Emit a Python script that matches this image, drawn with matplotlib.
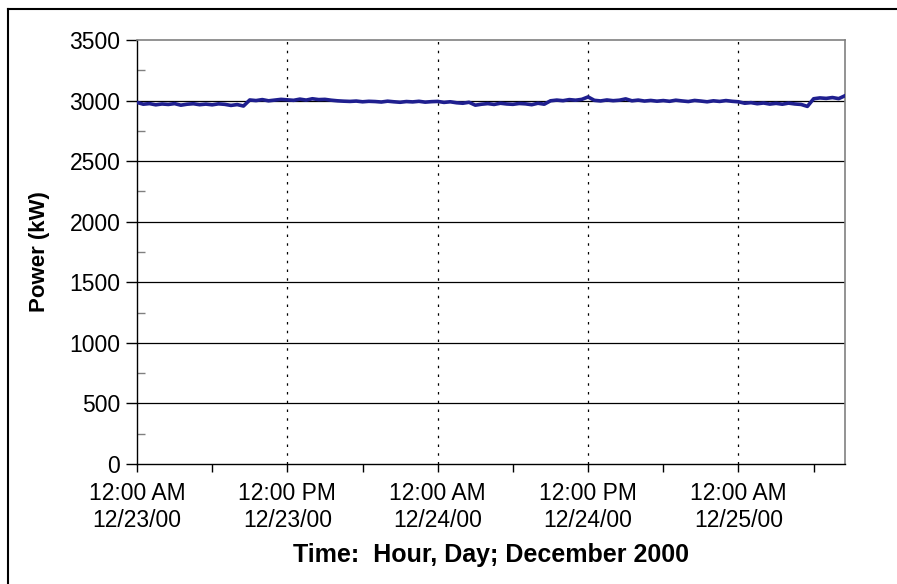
import numpy as np
import matplotlib.pyplot as plt
from matplotlib.ticker import MultipleLocator
from matplotlib.lines import Line2D

plt.rcParams['font.family'] = ['Liberation Sans', 'DejaVu Sans']

# half-hourly readings, hours after 12:00 AM 12/23/00
hours = np.arange(0, 57, 0.5)
power = [
    2985, 2970, 2975, 2965, 2972, 2968,
    2975, 2962, 2970, 2974, 2966, 2971,
    2965, 2973, 2969, 2960, 2967, 2955,
    3005, 3000, 3008, 2998, 3004, 3010,
    3006, 3002, 3012, 3004, 3015, 3008,
    3010, 3003, 2998, 2995, 2993, 2996,
    2990, 2994, 2992, 2988, 2995, 2990,
    2986, 2992, 2989, 2994, 2987, 2991,
    2993, 2985, 2990, 2982, 2978, 2986,
    2962, 2970, 2975, 2968, 2978, 2972,
    2969, 2976, 2973, 2966, 2978, 2970,
    2998, 3004, 2999, 3008, 3003, 3010,
    3030, 3002, 2997, 3005, 2999, 3003,
    3014, 2998, 3004, 2996, 3001, 2995,
    3000, 2994, 3003, 2997, 2992, 3001,
    2996, 2990, 2998, 2993, 3000, 2994,
    2990, 2978, 2983, 2974, 2980, 2971,
    2977, 2970, 2979, 2972, 2968, 2952,
    3015, 3022, 3018, 3025, 3016, 3040,
]
tick_hours = [0, 12, 24, 36, 48]
tick_labels = ['12:00 AM\n12/23/00', '12:00 PM\n12/23/00', '12:00 AM\n12/24/00',
               '12:00 PM\n12/24/00', '12:00 AM\n12/25/00']

fig = plt.figure(figsize=(8.97, 5.84), dpi=100)
ax = fig.add_axes([0.1527, 0.2055, 0.942 - 0.1527, 0.9315 - 0.2055])

# outer frame (top and left only visible)
fig.add_artist(Line2D([0.009, 1.0], [0.985, 0.985], color='black', lw=1.5, transform=fig.transFigure))
fig.add_artist(Line2D([0.009, 0.009], [0.0, 0.985], color='black', lw=1.5, transform=fig.transFigure))

ax.set_xlim(0, 56.5)
ax.set_ylim(0, 3500)
ax.yaxis.set_major_locator(MultipleLocator(500))
ax.yaxis.set_minor_locator(MultipleLocator(250))
ax.set_xticks(tick_hours)
ax.set_xticklabels(tick_labels)
ax.xaxis.set_minor_locator(MultipleLocator(6))

for y in range(500, 3500, 500):
    ax.axhline(y, color='black', lw=0.9, zorder=1)
for x in tick_hours[1:]:
    ax.axvline(x, color='black', lw=0.9, ls=(0, (2, 5)), zorder=1)

ax.plot(hours, power, color='#1f1f8f', lw=2.6, zorder=3)

for side in ['top', 'right']:
    ax.spines[side].set_color('#808080')
    ax.spines[side].set_linewidth(1.2)
for side in ['left', 'bottom']:
    ax.spines[side].set_color('black')
    ax.spines[side].set_linewidth(1.0)

ax.tick_params(axis='y', which='major', direction='out', length=8, width=1, labelsize=16.5, pad=4)
ax.tick_params(axis='y', which='minor', direction='in', length=6, width=1, color='#808080')
ax.tick_params(axis='x', which='both', direction='out', length=6, width=1, labelsize=16.5, pad=7)

ax.set_ylabel('Power (kW)', fontsize=16, fontweight='bold', labelpad=14)
ax.set_xlabel('Time:  Hour, Day; December 2000', fontsize=18, fontweight='bold', labelpad=8)

fig.savefig('out.png', dpi=100)
